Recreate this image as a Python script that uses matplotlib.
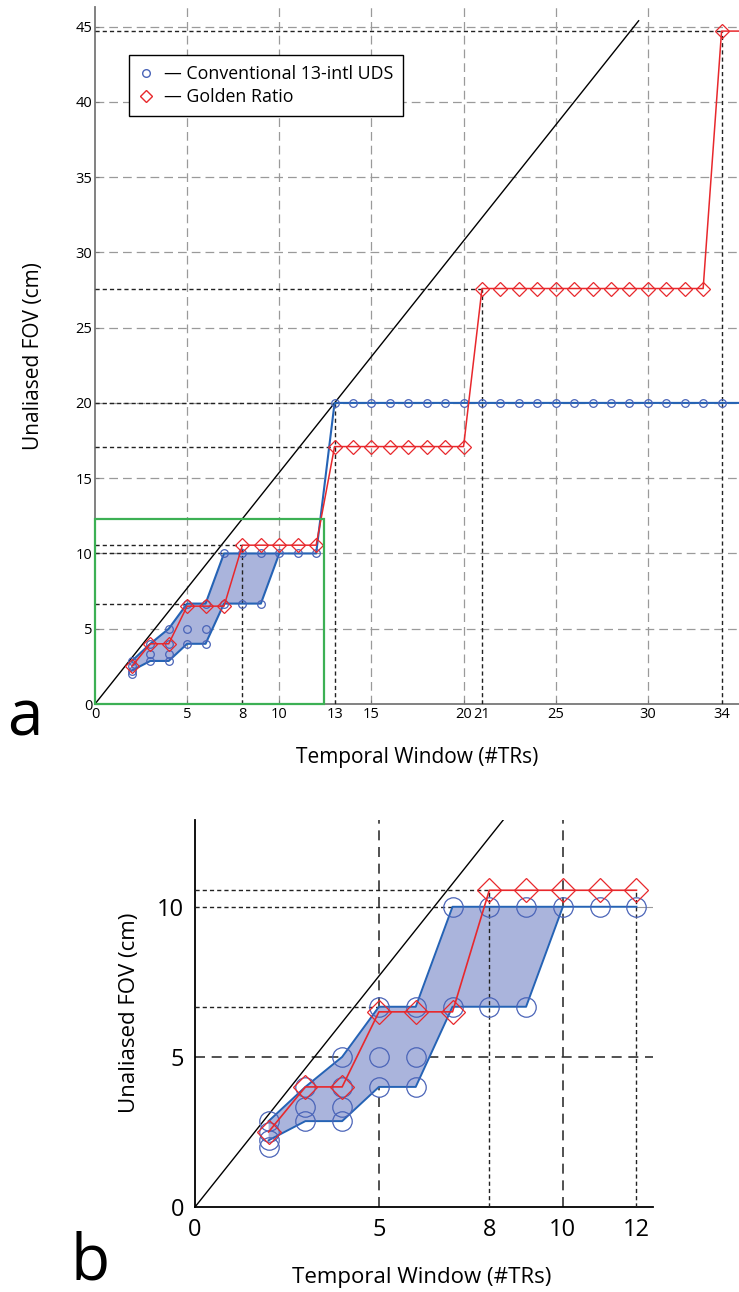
import matplotlib
matplotlib.use("Agg")
import matplotlib.pyplot as plt
from matplotlib.patches import Rectangle, Polygon
from matplotlib.lines import Line2D

# ---------------- data ----------------
# Conventional 13-interleave UDS: all attainable unaliased FOVs per temporal window
conv_pts_x = [2, 2, 2, 2, 3, 3, 3, 4, 4, 4, 4, 5, 5, 5, 6, 6, 6, 7, 7, 8, 8, 9, 9, 10, 11, 12,
              13, 14, 15, 16, 17, 18, 19, 20, 21, 22, 23, 24, 25, 26, 27, 28, 29, 30, 31, 32, 33, 34]
conv_pts_y = [2.0, 2.22, 2.5, 2.86, 2.86, 3.33, 4.0, 2.86, 3.33, 4.0, 5.0, 4.0, 5.0, 6.67,
              4.0, 5.0, 6.67, 6.67, 10.0, 6.67, 10.0, 6.67, 10.0, 10.0, 10.0, 10.0,
              20, 20, 20, 20, 20, 20, 20, 20, 20, 20, 20, 20, 20, 20, 20, 20, 20, 20, 20, 20, 20, 20]
# upper envelope
conv_up_x = [2, 3, 4, 5, 6, 7, 8, 9, 10, 11, 12, 13, 34]
conv_up_y = [2.86, 4.0, 5.0, 6.67, 6.67, 10.0, 10.0, 10.0, 10.0, 10.0, 10.0, 20.0, 20.0]
# lower envelope
conv_lo_x = [2, 3, 4, 5, 6, 7, 8, 9, 10]
conv_lo_y = [2.22, 2.86, 2.86, 4.0, 4.0, 6.67, 6.67, 6.67, 10.0]

# Golden ratio
gr_x = list(range(2, 35))
gr_y = [2.5, 4.0, 4.0, 6.5, 6.5, 6.5] + [10.55] * 5 + [17.1] * 8 + [27.6] * 13 + [44.7]

# Nyquist line slope (FOV 20 cm / 13 interleaves per TR)
nyq_slope = 20.0 / 13.0
nyq_end_a = 29.5

# reference (dashed) lines: horizontal (value, x-extent), vertical (x, y-extent)
ref_h_a = [(44.7, 34), (27.6, 21), (20.0, 13), (17.1, 13), (10.55, 8), (10.0, 7), (6.67, 5)]
ref_v_a = [(8, 10.55), (13, 20.0), (21, 27.6), (34, 44.7)]
ref_h_b = [(10.55, 8), (10.0, 7), (6.67, 5)]
ref_v_b = [(8, 10.55), (12, 10.55)]

xticks_a = [0, 5, 8, 10, 13, 15, 20, 21, 25, 30, 34]
yticks_a = [0, 5, 10, 15, 20, 25, 30, 35, 40, 45]
grid_x_a = [5, 10, 15, 20, 25, 30]
grid_y_a = [5, 10, 15, 20, 25, 30, 35, 40, 45]
xticks_b = [0, 5, 8, 10, 12]
yticks_b = [0, 5, 10]
grid_x_b = [5, 10]
grid_y_b = [5]

zoom_box = (12.45, 12.3)
zoom_last_tr = 12

# ---------------- style ----------------
FONT = "Open Sans"
plt.rcParams['font.family'] = [FONT, 'DejaVu Sans']
BLUE_LINE = '#2563b5'
BLUE_MK = '#4a64b8'
FILL = '#aab4dc'
RED = '#e8282c'
GREEN = '#3cb054'
GRAY = '#9a9a9a'
DK = '#222222'

W, H = 739, 1292
fig = plt.figure(figsize=(W / 100, H / 100), dpi=100)


def cut(xs, ys, xmax):
    pairs = [(x, y) for x, y in zip(xs, ys) if x <= xmax]
    return [p[0] for p in pairs], [p[1] for p in pairs]


def draw(ax, xlim_max, ymax, ms_c, ms_d, lw_b, lw_r, refs_h, refs_v, nyq_end, last_x, extend):
    poly_pts = list(zip(conv_up_x[:9], conv_up_y[:9])) + list(zip(conv_lo_x[::-1], conv_lo_y[::-1]))
    ax.add_patch(Polygon(poly_pts, closed=True, facecolor=FILL, edgecolor='none', zorder=2))
    ax.plot(conv_lo_x, conv_lo_y, color=BLUE_LINE, lw=lw_b, zorder=4)
    ux, uy = cut(conv_up_x, conv_up_y, last_x)
    if ux[-1] < last_x:
        ux, uy = ux + [last_x], uy + [uy[-1]]
    if extend:
        ux, uy = ux + [xlim_max + 1], uy + [uy[-1]]
    ax.plot(ux, uy, color=BLUE_LINE, lw=lw_b, zorder=4)
    px, py = cut(conv_pts_x, conv_pts_y, last_x)
    ax.plot(px, py, ls='none', marker='o', ms=ms_c, mfc='none', mec=BLUE_MK, mew=0.9, zorder=5)
    gx, gy = cut(gr_x, gr_y, last_x)
    if extend:
        ax.plot(gx + [xlim_max + 1], gy + [gy[-1]], color=RED, lw=lw_r, zorder=6)
    else:
        ax.plot(gx, gy, color=RED, lw=lw_r, zorder=6)
    ax.plot(gx, gy, ls='none', marker='D', ms=ms_d, mfc='none', mec=RED, mew=0.9, zorder=6)
    ax.plot([0, nyq_end], [0, nyq_slope * nyq_end], color='black', lw=1.0, zorder=3)
    for v, xe in refs_h:
        ax.plot([0, xe], [v, v], color=DK, lw=1.0, dashes=(3, 2.2), zorder=3)
    for xv, ye in refs_v:
        ax.plot([xv, xv], [0, ye], color=DK, lw=1.0, dashes=(3, 2.2), zorder=3)
    ax.set_xlim(0, xlim_max)
    ax.set_ylim(0, ymax)
    for s in ['top', 'right']:
        ax.spines[s].set_visible(False)


# ---------------- panel a ----------------
axa = fig.add_axes([95 / W, (H - 704) / H, 645 / W, 697 / H])
for g in grid_x_a:
    axa.axvline(g, color=GRAY, lw=0.9, dashes=(7, 4), zorder=1)
for g in grid_y_a:
    axa.axhline(g, color=GRAY, lw=0.9, dashes=(7, 4), zorder=1)
draw(axa, 35, 46.3, 5.5, 7, 1.5, 1.1, ref_h_a, ref_v_a, nyq_end_a, gr_x[-1], True)
axa.add_patch(Rectangle((0, 0), zoom_box[0], zoom_box[1], fill=False, edgecolor=GREEN, lw=1.6,
                        zorder=7, clip_on=False))
axa.set_xticks(xticks_a)
axa.set_yticks(yticks_a)
axa.tick_params(length=3, direction='in', labelsize=10.5, colors='#777777', labelcolor='black', pad=2)
for s in ['left', 'bottom']:
    axa.spines[s].set_color('#777777')
    axa.spines[s].set_linewidth(1.3)

h1 = Line2D([], [], ls='none', marker='o', ms=5.5, mfc='none', mec=BLUE_MK, mew=1.0)
h2 = Line2D([], [], ls='none', marker='D', ms=6, mfc='none', mec=RED, mew=1.0)
leg = axa.legend([h1, h2], ['\u2014 Conventional 13-intl UDS', '\u2014 Golden Ratio'],
                 loc='upper left', bbox_to_anchor=(0.0527, 0.931), borderaxespad=0,
                 fancybox=False, edgecolor='black', framealpha=1, fontsize=12.8,
                 handlelength=0.8, handletextpad=0.6, borderpad=0.55, labelspacing=0.3)
leg.get_frame().set_linewidth(1.0)
leg.set_zorder(10)

fig.text(34 / W, 1 - 356 / H, 'Unaliased FOV (cm)', rotation=90, ha='center', va='center', fontsize=15)
fig.text(417 / W, 1 - 757 / H, 'Temporal Window (#TRs)', ha='center', va='center', fontsize=15)
fig.text(25 / W, 1 - 718 / H, 'a', ha='center', va='center', fontsize=46)

# ---------------- panel b ----------------
axb = fig.add_axes([195 / W, (H - 1207) / H, 458 / W, 387 / H])
for g in grid_x_b:
    axb.axvline(g, color='#333333', lw=1.2, dashes=(6, 4), zorder=1)
for g in grid_y_b:
    axb.axhline(g, color='#333333', lw=1.2, dashes=(6, 4), zorder=1)
axb.plot([zoom_last_tr, zoom_box[0]], [10, 10], color=GRAY, lw=0.8, zorder=1)
draw(axb, zoom_box[0], 12.89, 14, 12, 1.4, 1.2, ref_h_b, ref_v_b, zoom_box[0], zoom_last_tr, False)
axb.set_xticks(xticks_b)
axb.set_yticks(yticks_b)
axb.tick_params(length=0, labelsize=17, pad=8)
for s in ['left', 'bottom']:
    axb.spines[s].set_color('black')
    axb.spines[s].set_linewidth(1.3)

fig.text(130 / W, 1 - 1013 / H, 'Unaliased FOV (cm)', rotation=90, ha='center', va='center', fontsize=16)
fig.text(422 / W, 1 - 1278 / H, 'Temporal Window (#TRs)', ha='center', va='center', fontsize=16)
fig.text(90 / W, 1 - 1262 / H, 'b', ha='center', va='center', fontsize=46)

fig.savefig('out.png', dpi=100)
